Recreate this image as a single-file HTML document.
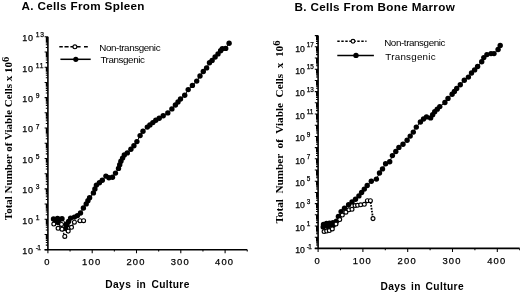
<!DOCTYPE html>
<html><head><meta charset="utf-8"><style>
html,body{margin:0;padding:0;background:#fff;}
body{width:520px;height:293px;overflow:hidden;}
svg{display:block;filter:grayscale(1);}
text{font-family:"Liberation Sans",sans-serif;fill:#000;}
.thk{stroke:#000;stroke-width:0.25px;}
.ax{stroke:#000;stroke-width:1.6;fill:none;}
.tk{stroke:#000;stroke-width:1.05;fill:none;}
.ln{stroke:#000;stroke-width:1;fill:none;}
.lno{stroke:#000;fill:none;}
.op{fill:#fff;stroke:#000;stroke-width:1.15;}
circle{fill:#000;}
.title{font-weight:bold;font-size:11.7px;letter-spacing:0.32px;}
.yl{font-size:8.5px;letter-spacing:0.3px;}
.sup{font-size:7px;letter-spacing:0px;}
.xl{font-size:9.4px;letter-spacing:1.2px;text-anchor:middle;}
.xt{font-weight:bold;font-size:10.2px;letter-spacing:0.38px;word-spacing:2px;}
.yt{font-family:"Liberation Serif",serif;font-weight:bold;font-size:11px;}
.lg{font-size:9.8px;letter-spacing:-0.4px;}
</style></head><body>
<svg width="520" height="293" viewBox="0 0 520 293">
<text x="21.5" y="9.8" class="title">A. Cells From Spleen</text>
<text x="294.5" y="11.1" class="title">B. Cells From Bone Marrow</text>
<line x1="47.9" y1="36.8" x2="47.9" y2="249.7" class="ax"/>
<line x1="44.6" y1="249.7" x2="247.25" y2="249.7" class="ax"/>
<path d="M44.6 249.7H47.9M45.8 245.12H47.9M45.8 242.44H47.9M45.8 240.54H47.9M45.8 239.07H47.9M45.8 237.87H47.9M45.8 236.85H47.9M45.8 235.97H47.9M45.8 235.19H47.9M44.6 234.49H47.9M45.8 229.92H47.9M45.8 227.24H47.9M45.8 225.34H47.9M45.8 223.86H47.9M45.8 222.66H47.9M45.8 221.64H47.9M45.8 220.76H47.9M45.8 219.98H47.9M44.6 219.29H47.9M45.8 214.71H47.9M45.8 212.03H47.9M45.8 210.13H47.9M45.8 208.66H47.9M45.8 207.45H47.9M45.8 206.43H47.9M45.8 205.55H47.9M45.8 204.77H47.9M44.6 204.08H47.9M45.8 199.5H47.9M45.8 196.82H47.9M45.8 194.92H47.9M45.8 193.45H47.9M45.8 192.25H47.9M45.8 191.23H47.9M45.8 190.35H47.9M45.8 189.57H47.9M44.6 188.87H47.9M45.8 184.29H47.9M45.8 181.62H47.9M45.8 179.72H47.9M45.8 178.24H47.9M45.8 177.04H47.9M45.8 176.02H47.9M45.8 175.14H47.9M45.8 174.36H47.9M44.6 173.66H47.9M45.8 169.09H47.9M45.8 166.41H47.9M45.8 164.51H47.9M45.8 163.03H47.9M45.8 161.83H47.9M45.8 160.81H47.9M45.8 159.93H47.9M45.8 159.15H47.9M44.6 158.46H47.9M45.8 153.88H47.9M45.8 151.2H47.9M45.8 149.3H47.9M45.8 147.83H47.9M45.8 146.62H47.9M45.8 145.61H47.9M45.8 144.72H47.9M45.8 143.95H47.9M44.6 143.25H47.9M45.8 138.67H47.9M45.8 135.99H47.9M45.8 134.09H47.9M45.8 132.62H47.9M45.8 131.42H47.9M45.8 130.4H47.9M45.8 129.52H47.9M45.8 128.74H47.9M44.6 128.04H47.9M45.8 123.47H47.9M45.8 120.79H47.9M45.8 118.89H47.9M45.8 117.41H47.9M45.8 116.21H47.9M45.8 115.19H47.9M45.8 114.31H47.9M45.8 113.53H47.9M44.6 112.84H47.9M45.8 108.26H47.9M45.8 105.58H47.9M45.8 103.68H47.9M45.8 102.21H47.9M45.8 101H47.9M45.8 99.98H47.9M45.8 99.1H47.9M45.8 98.32H47.9M44.6 97.63H47.9M45.8 93.05H47.9M45.8 90.37H47.9M45.8 88.47H47.9M45.8 87H47.9M45.8 85.8H47.9M45.8 84.78H47.9M45.8 83.9H47.9M45.8 83.12H47.9M44.6 82.42H47.9M45.8 77.84H47.9M45.8 75.17H47.9M45.8 73.27H47.9M45.8 71.79H47.9M45.8 70.59H47.9M45.8 69.57H47.9M45.8 68.69H47.9M45.8 67.91H47.9M44.6 67.21H47.9M45.8 62.64H47.9M45.8 59.96H47.9M45.8 58.06H47.9M45.8 56.58H47.9M45.8 55.38H47.9M45.8 54.36H47.9M45.8 53.48H47.9M45.8 52.7H47.9M44.6 52.01H47.9M45.8 47.43H47.9M45.8 44.75H47.9M45.8 42.85H47.9M45.8 41.38H47.9M45.8 40.17H47.9M45.8 39.16H47.9M45.8 38.27H47.9M45.8 37.5H47.9M44.6 36.8H47.9M47.9 249.7V253.3M70.05 249.7V251.6M92.2 249.7V253.3M114.35 249.7V251.6M136.5 249.7V253.3M158.65 249.7V251.6M180.8 249.7V253.3M202.95 249.7V251.6M225.1 249.7V253.3M247.25 249.7V251.6" class="tk"/>
<line x1="318.1" y1="35.6" x2="318.1" y2="248.4" class="ax"/>
<line x1="314.8" y1="248.4" x2="519.7" y2="248.4" class="ax"/>
<path d="M314.8 248.4H318.1M316 245.03H318.1M316 243.06H318.1M316 241.66H318.1M316 240.57H318.1M316 239.68H318.1M316 238.93H318.1M316 238.29H318.1M316 237.71H318.1M314.8 237.2H318.1M316 233.83H318.1M316 231.86H318.1M316 230.46H318.1M316 229.37H318.1M316 228.48H318.1M316 227.73H318.1M316 227.09H318.1M316 226.51H318.1M314.8 226H318.1M316 222.63H318.1M316 220.66H318.1M316 219.26H318.1M316 218.17H318.1M316 217.28H318.1M316 216.53H318.1M316 215.89H318.1M316 215.31H318.1M314.8 214.8H318.1M316 211.43H318.1M316 209.46H318.1M316 208.06H318.1M316 206.97H318.1M316 206.08H318.1M316 205.33H318.1M316 204.69H318.1M316 204.11H318.1M314.8 203.6H318.1M316 200.23H318.1M316 198.26H318.1M316 196.86H318.1M316 195.77H318.1M316 194.88H318.1M316 194.13H318.1M316 193.49H318.1M316 192.91H318.1M314.8 192.4H318.1M316 189.03H318.1M316 187.06H318.1M316 185.66H318.1M316 184.57H318.1M316 183.68H318.1M316 182.93H318.1M316 182.29H318.1M316 181.71H318.1M314.8 181.2H318.1M316 177.83H318.1M316 175.86H318.1M316 174.46H318.1M316 173.37H318.1M316 172.48H318.1M316 171.73H318.1M316 171.09H318.1M316 170.51H318.1M314.8 170H318.1M316 166.63H318.1M316 164.66H318.1M316 163.26H318.1M316 162.17H318.1M316 161.28H318.1M316 160.53H318.1M316 159.89H318.1M316 159.31H318.1M314.8 158.8H318.1M316 155.43H318.1M316 153.46H318.1M316 152.06H318.1M316 150.97H318.1M316 150.08H318.1M316 149.33H318.1M316 148.69H318.1M316 148.11H318.1M314.8 147.6H318.1M316 144.23H318.1M316 142.26H318.1M316 140.86H318.1M316 139.77H318.1M316 138.88H318.1M316 138.13H318.1M316 137.49H318.1M316 136.91H318.1M314.8 136.4H318.1M316 133.03H318.1M316 131.06H318.1M316 129.66H318.1M316 128.57H318.1M316 127.68H318.1M316 126.93H318.1M316 126.29H318.1M316 125.71H318.1M314.8 125.2H318.1M316 121.83H318.1M316 119.86H318.1M316 118.46H318.1M316 117.37H318.1M316 116.48H318.1M316 115.73H318.1M316 115.09H318.1M316 114.51H318.1M314.8 114H318.1M316 110.63H318.1M316 108.66H318.1M316 107.26H318.1M316 106.17H318.1M316 105.28H318.1M316 104.53H318.1M316 103.89H318.1M316 103.31H318.1M314.8 102.8H318.1M316 99.43H318.1M316 97.46H318.1M316 96.06H318.1M316 94.97H318.1M316 94.08H318.1M316 93.33H318.1M316 92.69H318.1M316 92.11H318.1M314.8 91.6H318.1M316 88.23H318.1M316 86.26H318.1M316 84.86H318.1M316 83.77H318.1M316 82.88H318.1M316 82.13H318.1M316 81.49H318.1M316 80.91H318.1M314.8 80.4H318.1M316 77.03H318.1M316 75.06H318.1M316 73.66H318.1M316 72.57H318.1M316 71.68H318.1M316 70.93H318.1M316 70.29H318.1M316 69.71H318.1M314.8 69.2H318.1M316 65.83H318.1M316 63.86H318.1M316 62.46H318.1M316 61.37H318.1M316 60.48H318.1M316 59.73H318.1M316 59.09H318.1M316 58.51H318.1M314.8 58H318.1M316 54.63H318.1M316 52.66H318.1M316 51.26H318.1M316 50.17H318.1M316 49.28H318.1M316 48.53H318.1M316 47.89H318.1M316 47.31H318.1M314.8 46.8H318.1M316 43.43H318.1M316 41.46H318.1M316 40.06H318.1M316 38.97H318.1M316 38.08H318.1M316 37.33H318.1M316 36.69H318.1M316 36.11H318.1M314.8 35.6H318.1M318.1 248.4V252M340.5 248.4V250.3M362.9 248.4V252M385.3 248.4V250.3M407.7 248.4V252M430.1 248.4V250.3M452.5 248.4V252M474.9 248.4V250.3M497.3 248.4V252M519.7 248.4V250.3" class="tk"/>
<text class="thk" x="22.3" y="41.1" style="font-size:9px;letter-spacing:0.6px">10<tspan style="font-size:6.7px;letter-spacing:0.9px" dx="2.2" dy="-3.8">13</tspan></text>
<text class="thk" x="22.3" y="71.51" style="font-size:9px;letter-spacing:0.6px">10<tspan style="font-size:6.7px;letter-spacing:0.9px" dx="2.2" dy="-3.8">11</tspan></text>
<text class="thk" x="22.3" y="101.93" style="font-size:9px;letter-spacing:0.6px">10<tspan style="font-size:6.7px;letter-spacing:0.9px" dx="2.2" dy="-3.8">9</tspan></text>
<text class="thk" x="22.3" y="132.34" style="font-size:9px;letter-spacing:0.6px">10<tspan style="font-size:6.7px;letter-spacing:0.9px" dx="2.2" dy="-3.8">7</tspan></text>
<text class="thk" x="22.3" y="162.76" style="font-size:9px;letter-spacing:0.6px">10<tspan style="font-size:6.7px;letter-spacing:0.9px" dx="2.2" dy="-3.8">5</tspan></text>
<text class="thk" x="22.3" y="193.17" style="font-size:9px;letter-spacing:0.6px">10<tspan style="font-size:6.7px;letter-spacing:0.9px" dx="2.2" dy="-3.8">3</tspan></text>
<text class="thk" x="22.3" y="223.59" style="font-size:9px;letter-spacing:0.6px">10<tspan style="font-size:6.7px;letter-spacing:0.9px" dx="2.2" dy="-3.8">1</tspan></text>
<text class="thk" x="22.3" y="254" style="font-size:9px;letter-spacing:0.6px">10<tspan style="font-size:6.7px;letter-spacing:-0.7px" dx="2.2" dy="-3.8">-1</tspan></text>
<text class="thk" x="295.3" y="51.5" style="font-size:8.7px;letter-spacing:-0.25px">10<tspan style="font-size:6.4px;letter-spacing:0.0px" dx="2.3" dy="-4.5">17</tspan></text>
<text class="thk" x="295.3" y="73.9" style="font-size:8.7px;letter-spacing:-0.25px">10<tspan style="font-size:6.4px;letter-spacing:0.0px" dx="2.3" dy="-4.5">15</tspan></text>
<text class="thk" x="295.3" y="96.3" style="font-size:8.7px;letter-spacing:-0.25px">10<tspan style="font-size:6.4px;letter-spacing:0.0px" dx="2.3" dy="-4.5">13</tspan></text>
<text class="thk" x="295.3" y="118.7" style="font-size:8.7px;letter-spacing:-0.25px">10<tspan style="font-size:6.4px;letter-spacing:0.0px" dx="2.3" dy="-4.5">11</tspan></text>
<text class="thk" x="295.3" y="141.1" style="font-size:8.7px;letter-spacing:-0.25px">10<tspan style="font-size:6.4px;letter-spacing:0.0px" dx="2.3" dy="-4.5">9</tspan></text>
<text class="thk" x="295.3" y="163.5" style="font-size:8.7px;letter-spacing:-0.25px">10<tspan style="font-size:6.4px;letter-spacing:0.0px" dx="2.3" dy="-4.5">7</tspan></text>
<text class="thk" x="295.3" y="185.9" style="font-size:8.7px;letter-spacing:-0.25px">10<tspan style="font-size:6.4px;letter-spacing:0.0px" dx="2.3" dy="-4.5">5</tspan></text>
<text class="thk" x="295.3" y="208.3" style="font-size:8.7px;letter-spacing:-0.25px">10<tspan style="font-size:6.4px;letter-spacing:0.0px" dx="2.3" dy="-4.5">3</tspan></text>
<text class="thk" x="295.3" y="230.7" style="font-size:8.7px;letter-spacing:-0.25px">10<tspan style="font-size:6.4px;letter-spacing:0.0px" dx="2.3" dy="-4.5">1</tspan></text>
<text class="thk" x="295.3" y="253.1" style="font-size:8.7px;letter-spacing:-0.25px">10<tspan style="font-size:6.4px;letter-spacing:-0.7px" dx="2.3" dy="-4.5">-1</tspan></text>
<text x="47.4" y="264.9" class="xl thk">0</text>
<text x="91.7" y="264.9" class="xl thk">100</text>
<text x="136" y="264.9" class="xl thk">200</text>
<text x="180.3" y="264.9" class="xl thk">300</text>
<text x="224.6" y="264.9" class="xl thk">400</text>
<text x="317.6" y="264.1" class="xl thk">0</text>
<text x="362.4" y="264.1" class="xl thk">100</text>
<text x="407.2" y="264.1" class="xl thk">200</text>
<text x="452" y="264.1" class="xl thk">300</text>
<text x="496.8" y="264.1" class="xl thk">400</text>
<text x="105.3" y="288" class="xt">Days in Culture</text>
<text x="380.5" y="289.6" class="xt" style="word-spacing:1.5px">Days in Culture</text>
<text transform="translate(11.9,220.2) rotate(-90)" class="yt" style="font-size:11px">Total Number of Viable Cells x 10<tspan style="font-size:0.95em" dy="-3.4">6</tspan></text>
<text transform="translate(283,223.6) rotate(-90)" class="yt" style="font-size:11.2px;word-spacing:2.8px">Total Number of Viable Cells x 10<tspan style="font-size:0.95em" dy="-3.4">6</tspan></text>
<!-- legends -->
<path d="M59.3 46.8H62.8M64.5 46.8H68.6M70.4 46.8H73M77 46.8H80.6M84 46.8H87.8" stroke="#000" stroke-width="1.6" fill="none"/>
<circle cx="74.9" cy="46.8" r="1.95" class="op" stroke-width="1.2"/>
<line x1="60.4" y1="59.3" x2="90.7" y2="59.3" stroke="#000" stroke-width="1.5"/>
<circle cx="75.8" cy="59.3" r="2.6"/>
<text x="99.3" y="51" class="lg">Non-transgenic</text>
<text x="100.4" y="63.3" class="lg">Transgenic</text>
<line x1="337.3" y1="41.2" x2="366.5" y2="41.2" stroke="#000" stroke-width="1.4" stroke-dasharray="2.4 1.6"/>
<circle cx="353" cy="41.2" r="1.9" class="op" stroke-width="1.2"/>
<line x1="337.3" y1="55.4" x2="373.9" y2="55.4" stroke="#000" stroke-width="1.5"/>
<circle cx="356" cy="55.4" r="2.7"/>
<text x="384.2" y="45.9" class="lg">Non-transgenic</text>
<text x="385.3" y="59.5" class="lg" style="letter-spacing:0.25px">Transgenic</text>
<polyline class="ln" points="53.5,219 55.5,221.5 57.5,218.5 58,222.5 59.5,219.5 62,218.8 66.2,224.2 65.5,228.5 67.05,224.95 68.6,221.4 70.6,218.1 74.4,217.1 77.4,215.6 80.5,213 83.4,208 86.2,203.9 87.9,200.8 89.6,197.7 93.4,192.9 94.9,189 96.4,185.1 99.4,182.7 102.3,180.3 105.9,176.1 108.9,177.7 112.5,177.3 115.5,173.1 118.5,168.4 119.7,164.8 120.9,161.2 122.6,158.1 124.3,155 127.3,152.9 130.9,149.3 133.9,145.8 136.9,141.6 140.1,135.6 143,131.3 147.3,127.1 149.9,125 152.85,122.6 155.8,120.2 159.2,118.2 163.2,115.7 167.8,112.9 171.9,108.9 175.4,105 178,102 180.5,99 184.7,95.3 188.2,89.6 192.4,85.4 196.7,81.1 200,76 203.3,71.5 206.6,67.9 209.5,62.8 212.1,60.4 215.1,57 218,53.9 220.6,50.8 222.3,48.8 225.7,48.4 229.1,43.3"/>
<polyline class="lno" stroke-width="1.4" stroke-dasharray="2.5 1.5" points="53.8,224 58.1,228.3 61.5,224.4 62,229.2 64.8,236.4 68.2,231.1 71.5,227.3 74.4,222.2 80,220.7 83.6,220.7"/>
<circle cx="53.5" cy="219" r="2.7"/>
<circle cx="55.5" cy="221.5" r="2.7"/>
<circle cx="57.5" cy="218.5" r="2.7"/>
<circle cx="58" cy="222.5" r="2.7"/>
<circle cx="59.5" cy="219.5" r="2.7"/>
<circle cx="62" cy="218.8" r="2.7"/>
<circle cx="66.2" cy="224.2" r="2.7"/>
<circle cx="65.5" cy="228.5" r="2.7"/>
<circle cx="67.05" cy="224.95" r="2.7"/>
<circle cx="68.6" cy="221.4" r="2.7"/>
<circle cx="70.6" cy="218.1" r="2.7"/>
<circle cx="74.4" cy="217.1" r="2.7"/>
<circle cx="77.4" cy="215.6" r="2.7"/>
<circle cx="80.5" cy="213" r="2.7"/>
<circle cx="83.4" cy="208" r="2.7"/>
<circle cx="86.2" cy="203.9" r="2.7"/>
<circle cx="87.9" cy="200.8" r="2.7"/>
<circle cx="89.6" cy="197.7" r="2.7"/>
<circle cx="93.4" cy="192.9" r="2.7"/>
<circle cx="94.9" cy="189" r="2.7"/>
<circle cx="96.4" cy="185.1" r="2.7"/>
<circle cx="99.4" cy="182.7" r="2.7"/>
<circle cx="102.3" cy="180.3" r="2.7"/>
<circle cx="105.9" cy="176.1" r="2.7"/>
<circle cx="108.9" cy="177.7" r="2.7"/>
<circle cx="112.5" cy="177.3" r="2.7"/>
<circle cx="115.5" cy="173.1" r="2.7"/>
<circle cx="118.5" cy="168.4" r="2.7"/>
<circle cx="119.7" cy="164.8" r="2.7"/>
<circle cx="120.9" cy="161.2" r="2.7"/>
<circle cx="122.6" cy="158.1" r="2.7"/>
<circle cx="124.3" cy="155" r="2.7"/>
<circle cx="127.3" cy="152.9" r="2.7"/>
<circle cx="130.9" cy="149.3" r="2.7"/>
<circle cx="133.9" cy="145.8" r="2.7"/>
<circle cx="136.9" cy="141.6" r="2.7"/>
<circle cx="140.1" cy="135.6" r="2.7"/>
<circle cx="143" cy="131.3" r="2.7"/>
<circle cx="147.3" cy="127.1" r="2.7"/>
<circle cx="149.9" cy="125" r="2.7"/>
<circle cx="152.85" cy="122.6" r="2.7"/>
<circle cx="155.8" cy="120.2" r="2.7"/>
<circle cx="159.2" cy="118.2" r="2.7"/>
<circle cx="163.2" cy="115.7" r="2.7"/>
<circle cx="167.8" cy="112.9" r="2.7"/>
<circle cx="171.9" cy="108.9" r="2.7"/>
<circle cx="175.4" cy="105" r="2.7"/>
<circle cx="178" cy="102" r="2.7"/>
<circle cx="180.5" cy="99" r="2.7"/>
<circle cx="184.7" cy="95.3" r="2.7"/>
<circle cx="188.2" cy="89.6" r="2.7"/>
<circle cx="192.4" cy="85.4" r="2.7"/>
<circle cx="196.7" cy="81.1" r="2.7"/>
<circle cx="200" cy="76" r="2.7"/>
<circle cx="203.3" cy="71.5" r="2.7"/>
<circle cx="206.6" cy="67.9" r="2.7"/>
<circle cx="209.5" cy="62.8" r="2.7"/>
<circle cx="212.1" cy="60.4" r="2.7"/>
<circle cx="215.1" cy="57" r="2.7"/>
<circle cx="218" cy="53.9" r="2.7"/>
<circle cx="220.6" cy="50.8" r="2.7"/>
<circle cx="222.3" cy="48.8" r="2.7"/>
<circle cx="225.7" cy="48.4" r="2.7"/>
<circle cx="229.1" cy="43.3" r="2.7"/>
<circle cx="53.8" cy="224" r="1.95" class="op"/>
<circle cx="58.1" cy="228.3" r="1.95" class="op"/>
<circle cx="61.5" cy="224.4" r="1.95" class="op"/>
<circle cx="62" cy="229.2" r="1.95" class="op"/>
<circle cx="64.8" cy="236.4" r="1.95" class="op"/>
<circle cx="68.2" cy="231.1" r="1.95" class="op"/>
<circle cx="71.5" cy="227.3" r="1.95" class="op"/>
<circle cx="74.4" cy="222.2" r="1.95" class="op"/>
<circle cx="80" cy="220.7" r="1.95" class="op"/>
<circle cx="83.6" cy="220.7" r="1.95" class="op"/>
<polyline class="ln" points="323.2,227 325.5,225.2 328,226.5 330.5,224.8 333,225.5 335.3,223.5 329.4,224 323.5,224.5 326.5,223.5 329.5,223.2 333,222.8 336.4,221.2 338.4,216.4 341.1,211.6 344.5,208.2 348.6,204.8 352,202 355.5,199.3 358.9,195.9 361.6,192.5 364.3,189.1 367.2,185.5 371.3,181.2 376.4,179.1 379.5,173 382.5,168.9 385.6,163.8 389.7,161.7 392.4,155.6 395.8,151.5 398.9,147.4 403,144.3 407.1,140.2 410.2,136.1 413.3,132.1 416.3,127.1 420.4,122 423.5,119 426.5,116.9 430.6,117.9 432.65,114.8 434.7,111.7 437.25,109.15 439.8,106.6 444.9,102.5 448,98.4 452.1,94.3 454.4,91.4 456.7,88.5 460.3,84.7 464.3,80.2 468.4,77.1 471.5,73 474.6,69.9 477.6,66.5 481.7,61.7 483.8,57.6 486.9,54.6 491,53.6 494,53.6 498.1,49.5 500.2,45.4"/>
<polyline class="lno" stroke-width="1.8" stroke-dasharray="1.6 1.3" points="324.1,231.5 326.7,231 329.3,230.5 332.3,228.9 336,224 339.7,219.6 342.3,215 345.9,212.2 348.9,209.8 352,209.3 355.1,205.5 357.6,205.3 360.7,204.8 364.3,204.3 367.4,200.7 370.4,200.7 373,218.6"/>
<circle cx="323.2" cy="227" r="2.7"/>
<circle cx="325.5" cy="225.2" r="2.7"/>
<circle cx="328" cy="226.5" r="2.7"/>
<circle cx="330.5" cy="224.8" r="2.7"/>
<circle cx="333" cy="225.5" r="2.7"/>
<circle cx="335.3" cy="223.5" r="2.7"/>
<circle cx="329.4" cy="224" r="2.7"/>
<circle cx="323.5" cy="224.5" r="2.7"/>
<circle cx="326.5" cy="223.5" r="2.7"/>
<circle cx="329.5" cy="223.2" r="2.7"/>
<circle cx="333" cy="222.8" r="2.7"/>
<circle cx="336.4" cy="221.2" r="2.7"/>
<circle cx="338.4" cy="216.4" r="2.7"/>
<circle cx="341.1" cy="211.6" r="2.7"/>
<circle cx="344.5" cy="208.2" r="2.7"/>
<circle cx="348.6" cy="204.8" r="2.7"/>
<circle cx="352" cy="202" r="2.7"/>
<circle cx="355.5" cy="199.3" r="2.7"/>
<circle cx="358.9" cy="195.9" r="2.7"/>
<circle cx="361.6" cy="192.5" r="2.7"/>
<circle cx="364.3" cy="189.1" r="2.7"/>
<circle cx="367.2" cy="185.5" r="2.7"/>
<circle cx="371.3" cy="181.2" r="2.7"/>
<circle cx="376.4" cy="179.1" r="2.7"/>
<circle cx="379.5" cy="173" r="2.7"/>
<circle cx="382.5" cy="168.9" r="2.7"/>
<circle cx="385.6" cy="163.8" r="2.7"/>
<circle cx="389.7" cy="161.7" r="2.7"/>
<circle cx="392.4" cy="155.6" r="2.7"/>
<circle cx="395.8" cy="151.5" r="2.7"/>
<circle cx="398.9" cy="147.4" r="2.7"/>
<circle cx="403" cy="144.3" r="2.7"/>
<circle cx="407.1" cy="140.2" r="2.7"/>
<circle cx="410.2" cy="136.1" r="2.7"/>
<circle cx="413.3" cy="132.1" r="2.7"/>
<circle cx="416.3" cy="127.1" r="2.7"/>
<circle cx="420.4" cy="122" r="2.7"/>
<circle cx="423.5" cy="119" r="2.7"/>
<circle cx="426.5" cy="116.9" r="2.7"/>
<circle cx="430.6" cy="117.9" r="2.7"/>
<circle cx="432.65" cy="114.8" r="2.7"/>
<circle cx="434.7" cy="111.7" r="2.7"/>
<circle cx="437.25" cy="109.15" r="2.7"/>
<circle cx="439.8" cy="106.6" r="2.7"/>
<circle cx="444.9" cy="102.5" r="2.7"/>
<circle cx="448" cy="98.4" r="2.7"/>
<circle cx="452.1" cy="94.3" r="2.7"/>
<circle cx="454.4" cy="91.4" r="2.7"/>
<circle cx="456.7" cy="88.5" r="2.7"/>
<circle cx="460.3" cy="84.7" r="2.7"/>
<circle cx="464.3" cy="80.2" r="2.7"/>
<circle cx="468.4" cy="77.1" r="2.7"/>
<circle cx="471.5" cy="73" r="2.7"/>
<circle cx="474.6" cy="69.9" r="2.7"/>
<circle cx="477.6" cy="66.5" r="2.7"/>
<circle cx="481.7" cy="61.7" r="2.7"/>
<circle cx="483.8" cy="57.6" r="2.7"/>
<circle cx="486.9" cy="54.6" r="2.7"/>
<circle cx="491" cy="53.6" r="2.7"/>
<circle cx="494" cy="53.6" r="2.7"/>
<circle cx="498.1" cy="49.5" r="2.7"/>
<circle cx="500.2" cy="45.4" r="2.7"/>
<circle cx="324.1" cy="231.5" r="1.95" class="op"/>
<circle cx="326.7" cy="231" r="1.95" class="op"/>
<circle cx="329.3" cy="230.5" r="1.95" class="op"/>
<circle cx="332.3" cy="228.9" r="1.95" class="op"/>
<circle cx="336" cy="224" r="1.95" class="op"/>
<circle cx="339.7" cy="219.6" r="1.95" class="op"/>
<circle cx="342.3" cy="215" r="1.95" class="op"/>
<circle cx="345.9" cy="212.2" r="1.95" class="op"/>
<circle cx="348.9" cy="209.8" r="1.95" class="op"/>
<circle cx="352" cy="209.3" r="1.95" class="op"/>
<circle cx="355.1" cy="205.5" r="1.95" class="op"/>
<circle cx="357.6" cy="205.3" r="1.95" class="op"/>
<circle cx="360.7" cy="204.8" r="1.95" class="op"/>
<circle cx="364.3" cy="204.3" r="1.95" class="op"/>
<circle cx="367.4" cy="200.7" r="1.95" class="op"/>
<circle cx="370.4" cy="200.7" r="1.95" class="op"/>
<circle cx="373" cy="218.6" r="1.95" class="op"/>
</svg>
</body></html>
